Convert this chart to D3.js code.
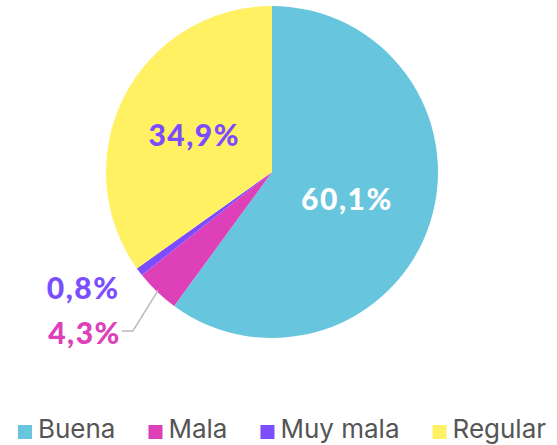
<!DOCTYPE html>
<html>
<head>
<meta charset="utf-8">
<script src="https://cdn.jsdelivr.net/npm/d3@7"></script>
<style>
  html, body { margin: 0; padding: 0; background: #fff; }
  svg { display: block; }
</style>
</head>
<body>
<div id="chart"></div>
<script>
// categories and shares (%)
const categories = ['Buena', 'Mala', 'Muy mala', 'Regular'];
const values = [60.1, 4.3, 0.8, 34.9];
const labels = ['60,1%', '4,3%', '0,8%', '34,9%'];
const colors = ['#67c6dd', '#dd40b9', '#7c4dff', '#fff162'];
const labelColors = ['#ffffff', '#dd40b9', '#7c4dff', '#7c4dff'];

const w = 557;
const h = 445;
const cx = 272;
const cy = 172;
const radius = 166;

const svg = d3.select('#chart')
  .append('svg')
  .attr('width', w)
  .attr('height', h);

const data = categories.map((c, i) => ({ name: c, value: values[i], label: labels[i], color: colors[i], labelColor: labelColors[i] }));

const pie = d3.pie()
  .sort(null)
  .value(d => d.value);

const arcs = pie(data);

const arc = d3.arc()
  .innerRadius(0)
  .outerRadius(radius);

const g = svg.append('g')
  .attr('transform', 'translate(' + cx + ',' + cy + ')');

g.selectAll('path.slice')
  .data(arcs)
  .enter()
  .append('path')
  .attr('class', 'slice')
  .attr('d', arc)
  .style('fill', d => d.data.color);

// point on a circle of radius r at the slice's middle angle
const polar = (d, r) => {
  const a = (d.startAngle + d.endAngle) / 2;
  return [r * Math.sin(a), -r * Math.cos(a)];
};

const labelText = (sel, d) => sel
  .attr('dominant-baseline', 'central')
  .style('font-family', "Lato, sans-serif")
  .style('font-weight', 900)
  .style('font-size', '30px')
  .style('letter-spacing', '1.5px')
  .style('fill', d.data.labelColor)
  .text(d.data.label);

// big slices: label inside
arcs.filter(d => d.data.value > 10).forEach(d => {
  const p = polar(d, radius * 0.5);
  g.append('text')
    .attr('x', p[0] - 4)
    .attr('y', p[1])
    .attr('text-anchor', 'middle')
    .call(labelText, d);
});

// Muy mala: label just outside
const muy = arcs[2];
const pm = polar(muy, radius * 1.15);
g.append('text')
  .attr('x', pm[0])
  .attr('y', pm[1])
  .attr('text-anchor', 'end')
  .call(labelText, muy);

// Mala: label with leader line
const mala = arcs[1];
const s = polar(mala, radius * 0.99);
const e0 = polar(mala, radius * 1.27);
const e = [e0[0] + 7, e0[1] + 7];
const end = [e[0] - 11, e[1]];
g.append('polyline')
  .attr('points', [s, e, end].map(p => p.join(',')).join(' '))
  .style('fill', 'none')
  .style('stroke', '#bbbbbb')
  .style('stroke-width', 1.5);

g.append('text')
  .attr('x', end[0] - 1)
  .attr('y', end[1] + 1)
  .attr('text-anchor', 'end')
  .call(labelText, mala);

// legend
const legend = svg.append('g').attr('class', 'legend');
const items = legend.selectAll('g.item')
  .data(data)
  .enter()
  .append('g')
  .attr('class', 'item');

items.append('rect')
  .attr('y', 425)
  .attr('width', 14)
  .attr('height', 14)
  .style('fill', d => d.color);

items.append('text')
  .attr('x', 20)
  .attr('y', 438)
  .style('font-family', "Inter, Roboto, sans-serif")
  .style('font-size', '26px')
  .style('fill', '#555555')
  .text(d => d.name);

let x = 0;
const gap = 33;
items.each(function () {
  const node = d3.select(this);
  const tw = node.select('text').node().getComputedTextLength();
  node.attr('transform', 'translate(' + x + ',0)');
  x += 20 + tw + gap;
});
const totalW = x - gap;
legend.attr('transform', 'translate(' + (282 - totalW / 2) + ',0)');
</script>
</body>
</html>
